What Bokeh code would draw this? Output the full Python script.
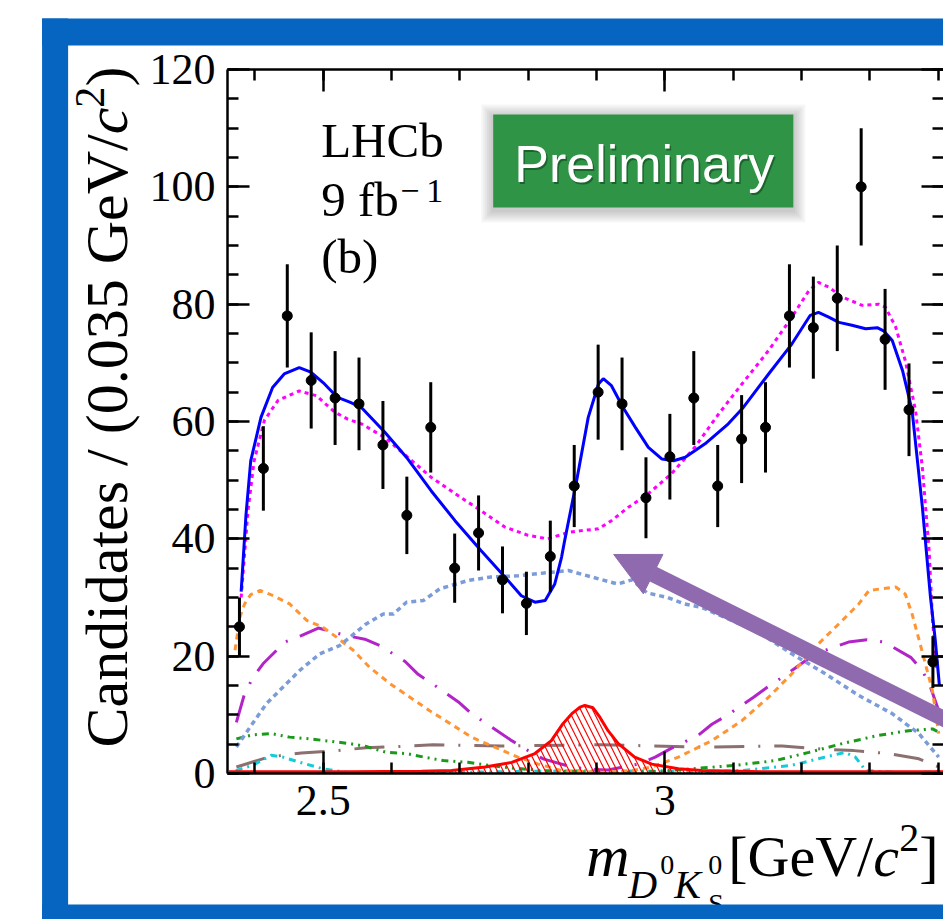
import math

from bokeh.plotting import figure
from bokeh.models import (Range1d, LinearAxis, SingleIntervalTicker, NumeralTickFormatter,
                          CustomJSTickFormatter, Arrow, NormalHead)
from bokeh.core.properties import value
from bokeh.embed import file_html
from bokeh.resources import INLINE

SERIF = "Liberation Serif"
SANS = "Liberation Sans"

# ---------------------------------------------------------------------------
# Binned data: m(D0 K0S) bin centres [GeV/c^2] and candidates per 35 MeV bin
# ---------------------------------------------------------------------------
bin_centers = [2.3775, 2.4125, 2.4475, 2.4825, 2.5175, 2.5525, 2.5875, 2.6225, 2.6575, 2.6925,
               2.7275, 2.7625, 2.7975, 2.8325, 2.8675, 2.9025, 2.9375, 2.9725, 3.0075, 3.0425,
               3.0775, 3.1125, 3.1475, 3.1825, 3.2175, 3.2525, 3.2875, 3.3225, 3.3575, 3.3925]
counts = [25, 52, 78, 67, 64, 63, 56, 44, 59, 35,
          41, 33, 29, 37, 49, 65, 63, 47, 54, 64,
          49, 57, 59, 78, 76, 81, 100, 74, 62, 19]
count_errors = [5.0, 7.2, 8.8, 8.2, 8.0, 7.9, 7.5, 6.6, 7.7, 5.9,
                6.4, 5.7, 5.4, 6.1, 7.0, 8.1, 7.9, 6.9, 7.3, 8.0,
                7.0, 7.5, 7.7, 8.8, 8.7, 9.0, 10.0, 8.6, 7.9, 4.4]

# ---------------------------------------------------------------------------
# Fit projections (x in GeV/c^2, y in candidates per bin)
# ---------------------------------------------------------------------------
total_x = [2.380, 2.387, 2.394, 2.409, 2.426, 2.443, 2.465, 2.482, 2.502, 2.521, 2.539, 2.556,
           2.590, 2.624, 2.658, 2.693, 2.731, 2.766, 2.790, 2.810, 2.825, 2.839, 2.849, 2.854,
           2.871, 2.888, 2.903, 2.910, 2.922, 2.939, 2.957, 2.976, 2.996, 3.013, 3.030, 3.059,
           3.093, 3.115, 3.152, 3.186, 3.213, 3.225, 3.240, 3.255, 3.274, 3.294, 3.311, 3.321,
           3.333, 3.348, 3.362, 3.377, 3.389, 3.396, 3.402]
total_y = [31.0, 44.0, 53.3, 60.7, 65.8, 68.1, 69.2, 68.4, 66.4, 64.1, 63.3, 62.4,
           58.2, 53.6, 48.2, 43.1, 38.0, 33.5, 30.3, 29.2, 29.5, 32.3, 36.9, 40.0,
           49.9, 60.7, 66.4, 67.3, 66.1, 62.4, 59.0, 55.6, 53.6, 53.3, 53.9, 56.2,
           59.6, 62.4, 68.1, 73.2, 78.1, 78.6, 77.8, 76.9, 76.4, 75.8, 76.0, 75.4,
           73.8, 68.7, 61.9, 45.5, 30.0, 22.7, 15.0]

nosig_x = [2.380, 2.390, 2.399, 2.414, 2.434, 2.465, 2.490, 2.517, 2.536, 2.556, 2.590, 2.624,
           2.658, 2.693, 2.731, 2.766, 2.800, 2.829, 2.859, 2.878, 2.903, 2.922, 2.947, 2.976,
           3.010, 3.044, 3.079, 3.113, 3.152, 3.186, 3.211, 3.225, 3.240, 3.260, 3.289, 3.313,
           3.323, 3.338, 3.352, 3.367, 3.377, 3.387, 3.392, 3.398]
nosig_y = [30.0, 44.8, 53.3, 60.2, 63.6, 65.2, 64.4, 61.6, 60.4, 59.6, 57.3, 53.9,
           50.5, 47.7, 44.8, 42.0, 40.6, 40.0, 41.1, 41.4, 41.7, 43.1, 45.4, 47.7,
           51.1, 55.6, 61.3, 66.4, 72.1, 77.8, 82.3, 83.7, 82.9, 81.2, 79.8, 80.0,
           79.5, 76.1, 70.4, 61.9, 52.2, 38.0, 26.0, 18.0]

comp_blue_x = [2.373, 2.393, 2.417, 2.441, 2.466, 2.495, 2.524, 2.539, 2.563, 2.588, 2.603, 2.622,
               2.647, 2.671, 2.695, 2.712, 2.746, 2.785, 2.834, 2.859, 2.893, 2.931, 2.952, 2.974,
               3.004, 3.029, 3.054, 3.088, 3.137, 3.186, 3.235, 3.284, 3.333, 3.372, 3.401]
comp_blue_y = [4.5, 7.9, 11.9, 14.7, 17.6, 20.4, 21.8, 23.2, 25.5, 27.2, 27.2, 29.2,
               29.5, 31.5, 32.3, 32.9, 33.5, 33.7, 34.3, 34.6, 33.5, 32.3, 33.0, 30.8,
               30.0, 28.9, 28.3, 26.6, 24.1, 20.4, 17.0, 13.3, 10.2, 6.8, 2.8]

comp_orange_x = [2.371, 2.378, 2.385, 2.394, 2.408, 2.427, 2.451, 2.476, 2.500, 2.520, 2.544, 2.568,
                 2.598, 2.627, 2.656, 2.686, 2.717, 2.751, 2.785, 2.815, 2.849, 2.908, 2.952, 2.981,
                 3.020, 3.069, 3.113, 3.152, 3.186, 3.225, 3.260, 3.284, 3.299, 3.318, 3.338, 3.352,
                 3.362, 3.377, 3.392, 3.401]
comp_orange_y = [21.0, 26.6, 28.9, 30.5, 31.2, 30.3, 28.9, 26.1, 24.9, 23.2, 21.0, 18.1,
                 15.3, 13.0, 10.7, 8.5, 6.2, 4.5, 2.8, 1.6, 0.5, 0.2, 0.5, 1.1,
                 2.8, 5.6, 9.0, 13.0, 17.0, 22.1, 26.1, 28.9, 31.2, 31.5, 31.8, 30.6,
                 27.2, 20.7, 14.0, 6.8]

comp_purple_x = [2.373, 2.385, 2.397, 2.412, 2.444, 2.468, 2.493, 2.534, 2.561, 2.583, 2.620, 2.639,
                 2.660, 2.698, 2.717, 2.739, 2.776, 2.800, 2.822, 2.864, 2.893, 2.917, 2.961, 2.986,
                 3.008, 3.049, 3.069, 3.091, 3.130, 3.150, 3.172, 3.213, 3.235, 3.269, 3.296, 3.321,
                 3.360, 3.377, 3.389, 3.401]
comp_purple_y = [8.7, 13.6, 16.3, 18.7, 22.4, 23.5, 24.8, 23.5, 22.9, 21.8, 19.1, 16.9,
                 15.3, 12.2, 10.2, 8.5, 5.6, 3.9, 2.5, 1.1, 0.7, 0.6, 1.6, 2.8,
                 4.2, 6.5, 8.4, 9.9, 13.0, 14.7, 16.4, 19.8, 21.0, 22.4, 22.8, 22.4,
                 19.8, 17.6, 14.7, 10.7]

comp_green_x = [2.373, 2.397, 2.424, 2.451, 2.480, 2.510, 2.539, 2.563, 2.593, 2.622, 2.647, 2.676,
                2.712, 2.761, 2.820, 2.908, 2.981, 3.040, 3.103, 3.162, 3.211, 3.260, 3.313, 3.357,
                3.392, 3.402]
comp_green_y = [5.9, 6.6, 6.8, 6.2, 5.9, 5.5, 5.1, 4.6, 3.6, 3.4, 2.8, 2.2,
                1.9, 1.1, 0.5, 0.2, 0.3, 0.8, 1.4, 2.2, 3.6, 5.1, 6.5, 7.3,
                7.6, 7.0]

comp_brown_x = [2.373, 2.417, 2.441, 2.468, 2.512, 2.563, 2.610, 2.661, 2.705, 2.761, 2.908, 2.981,
                3.054, 3.172, 3.235, 3.277, 3.328, 3.372, 3.401]
comp_brown_y = [1.1, 2.7, 3.1, 3.5, 3.8, 4.4, 4.6, 4.9, 4.8, 4.7, 4.9, 4.7,
                4.5, 4.7, 4.1, 3.9, 3.4, 2.5, 1.1]

comp_cyan_x = [2.372, 2.397, 2.424, 2.441, 2.466, 2.500, 2.534, 2.614, 2.761, 2.908, 3.054, 3.113,
               3.186, 3.235, 3.264, 3.279, 3.294, 3.348, 3.402]
comp_cyan_y = [0.5, 1.4, 3.1, 2.8, 1.9, 0.8, 0.2, 0.1, 0.3, 0.5, 0.3, 0.5,
               1.4, 2.8, 3.6, 2.8, 0.5, 0.1, 0.3]

signal_x = [2.362, 2.541, 2.644, 2.688, 2.737, 2.776, 2.810, 2.834, 2.851, 2.864, 2.876, 2.883,
            2.895, 2.905, 2.917, 2.932, 2.956, 2.981, 3.020, 3.054, 3.142, 3.274, 3.408]
signal_y = [0.3, 0.3, 0.4, 0.5, 1.1, 1.9, 3.4, 5.6, 8.5, 10.2, 11.3, 11.6,
            11.2, 9.6, 7.3, 5.1, 2.8, 1.6, 0.8, 0.5, 0.3, 0.3, 0.3]

x_tick_interval = 0.5
y_tick_interval = 20

# ---------------------------------------------------------------------------
FRAME_BLUE = "#0565c0"
ARROW_PURPLE = "#8f6aae"
BOX_GREEN = "#2f9446"

p = figure(width=943, height=919,
           x_range=Range1d(2.36, 3.408), y_range=Range1d(0, 120),
           output_backend="svg", toolbar_location=None,
           min_border_left=227, min_border_right=0,
           min_border_top=69, min_border_bottom=146,
           background_fill_color="white", border_fill_color="white")
p.outline_line_color = None
p.xgrid.visible = False
p.ygrid.visible = False

xticker = SingleIntervalTicker(interval=x_tick_interval, num_minor_ticks=5)
yticker = SingleIntervalTicker(interval=y_tick_interval, num_minor_ticks=4)
blank = CustomJSTickFormatter(code="return ''")

x_axis = p.below[0]
y_axis = p.left[0]
x_axis.ticker = xticker
y_axis.ticker = yticker
x_axis.formatter = NumeralTickFormatter(format="0.[0]")

top_axis = LinearAxis(ticker=xticker, formatter=blank)
right_axis = LinearAxis(ticker=yticker, formatter=blank)
p.add_layout(top_axis, "above")
p.add_layout(right_axis, "right")


def style_axis(ax, show_labels):
    ax.axis_label = None
    ax.axis_line_color = "black"
    ax.axis_line_width = 2.5
    ax.major_tick_in = 22
    ax.major_tick_out = 0
    ax.minor_tick_in = 11
    ax.minor_tick_out = 0
    ax.major_tick_line_width = 2.5
    ax.minor_tick_line_width = 2.5
    ax.major_tick_line_color = "black"
    ax.minor_tick_line_color = "black"
    ax.major_label_text_font = SERIF
    ax.major_label_text_font_style = "normal"
    ax.major_label_text_color = "black"
    if show_labels:
        ax.major_label_text_font_size = "44px"
        ax.major_label_standoff = 12
    else:
        ax.major_label_text_font_size = "1px"
        ax.major_label_standoff = 0


style_axis(x_axis, True)
style_axis(y_axis, True)
style_axis(top_axis, False)
style_axis(right_axis, False)
right_axis.axis_line_color = None


def put_text(x, y, txt, size, style="normal", font=SERIF, color="black", angle=0.0,
             align="left", alpha=1.0, level="glyph"):
    p.text(x=[x], y=[y], text=[txt], angle=angle,
           text_font=value(font), text_font_size=value(size), text_font_style=value(style),
           text_color=color, text_alpha=alpha, text_align=value(align),
           text_baseline=value("alphabetic"), level=level)


# ---- fit components -------------------------------------------------------
p.line(comp_brown_x, comp_brown_y, line_color="#8c6f6f", line_width=3, line_dash="30 14 2 14")
p.line(comp_cyan_x, comp_cyan_y, line_color="#12ccd8", line_width=3, line_dash="7 5 2 5")
p.line(comp_green_x, comp_green_y, line_color="#1a9a1a", line_width=3, line_dash="7 5 2 5 2 5")
p.line(comp_purple_x, comp_purple_y, line_color="#b224c8", line_width=3, line_dash="28 13 2 13")
p.line(comp_orange_x, comp_orange_y, line_color="#ff9433", line_width=3, line_dash="6 5")
p.line(comp_blue_x, comp_blue_y, line_color="#7b9cd8", line_width=3.5, line_dash="5 4")

# signal: hatched area under a solid red line
p.varea(x=signal_x, y1=0, y2=signal_y, fill_color=None,
        hatch_pattern="\\", hatch_color="red", hatch_weight=1.2, hatch_scale=12)
p.line(signal_x, signal_y, line_color="red", line_width=3)

# totals
p.line(nosig_x, nosig_y, line_color="#ff00ff", line_width=3, line_dash="4 4")
p.line(total_x, total_y, line_color="blue", line_width=3)

# ---- data points with uncertainties ---------------------------------------
err_lo = [c - e for c, e in zip(counts, count_errors)]
err_hi = [c + e for c, e in zip(counts, count_errors)]
p.segment(x0=bin_centers, y0=err_lo, x1=bin_centers, y1=err_hi, line_color="black", line_width=3)
p.scatter(bin_centers, counts, size=10, fill_color="black", line_color="black")

# ---- "Preliminary" badge -------------------------------------------------
px_x = 1.0 / 683.0     # one screen pixel along x, in GeV
px_y = 120.0 / 704.0   # one screen pixel along y, in candidates
bx0, bx1, by0, by1 = 2.7489, 3.1882, 96.48, 112.33
for k in range(1, 7):
    g = 2.0 * k
    p.quad(left=bx0 - g * px_x, right=bx1 + g * px_x,
           bottom=by0 - (g + 3) * px_y, top=by1 + (g - 2) * px_y,
           fill_color="black", fill_alpha=0.035, line_color=None)
p.quad(left=bx0, right=bx1, bottom=by0, top=by1, fill_color=BOX_GREEN, line_color=None)
put_text(2.970 + 1.5 * px_x, 103.93 - 2.0 * px_y, "Preliminary", "52px", font=SANS,
         color="#0d3a18", align="center", alpha=0.55)
put_text(2.970, 103.93, "Preliminary", "52px", font=SANS, color="white", align="center")

# ---- experiment tag ---------------------------------------------------------
put_text(2.4971, 107.83, "LHCb", "49px")
put_text(2.4971, 97.77, "9 fb", "49px")
put_text(2.6127, 99.3, "\u2212\u20091", "34px")
put_text(2.4971, 88.06, "(b)", "49px")

# ---- arrow ----------------------------------------------------------------
p.add_layout(Arrow(end=NormalHead(size=44, fill_color=ARROW_PURPLE, line_color=ARROW_PURPLE,
                                  line_width=1),
                   x_start=3.4253, y_start=8.35, x_end=2.9253, y_end=37.33,
                   line_color=ARROW_PURPLE, line_width=16))

# ---- axis titles (drawn above the frame level so they can sit in the margins) ----
up = math.pi / 2
put_text(2.1843, 4.43, "Candidates / (0.035 GeV/", "60px", angle=up, level="overlay")
put_text(2.1843, 108.97, "c", "60px", style="italic", angle=up, level="overlay")
put_text(2.1587, 113.50, "2", "42px", angle=up, level="overlay")
put_text(2.1843, 117.09, ")", "60px", angle=up, level="overlay")

put_text(2.8851, -14.05, "m", "60px", style="italic", level="overlay")
put_text(2.9466, -18.85, "D", "40px", style="italic", level="overlay")
put_text(2.9934, -15.68, "0", "28px", level="overlay")
put_text(3.0139, -18.85, "K", "40px", style="italic", level="overlay")
put_text(3.0637, -15.68, "0", "28px", level="overlay")
put_text(3.0637, -22.16, "S", "28px", level="overlay")
put_text(3.0930, -14.16, "[GeV/", "58px", level="overlay")
put_text(3.3053, -14.16, "c", "58px", style="italic", level="overlay")
put_text(3.3433, -11.01, "2", "40px", level="overlay")
put_text(3.3726, -14.16, "]", "58px", level="overlay")

# ---- slide frame ----------------------------------------------------------
p.quad(left=[2.0886, 2.0886, 2.0886], right=[3.60, 2.1267, 3.60],
       top=[128.69, 128.69, -22.33], bottom=[124.09, -30.0, -30.0],
       fill_color=FRAME_BLUE, line_color=None, level="overlay")

open("out.html", "w").write(file_html(p, INLINE))
